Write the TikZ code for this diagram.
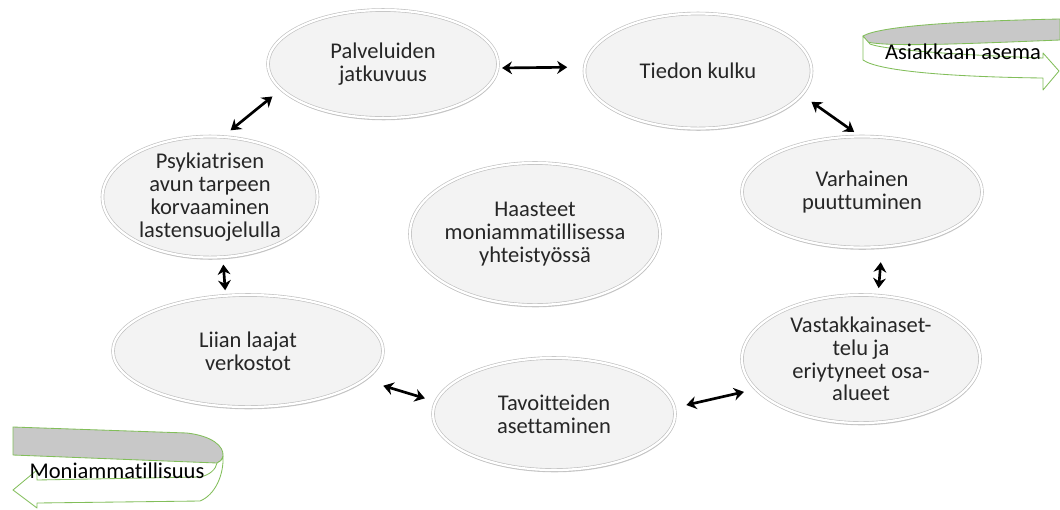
\documentclass[tikz,border=0pt]{standalone}
\usepackage{fontspec}
\setmainfont{Carlito}[Ligatures=NoCommon]
\usetikzlibrary{arrows.meta,shapes.geometric,shadows}

\begin{document}
\begin{tikzpicture}[
      x=0.025cm, y=-0.025cm,
      font=\fontsize{16}{16.2}\selectfont,
      bubble/.style={ellipse, draw=gray!50, line width=0.45pt, double=white, double distance=1.6pt,
        fill=bubblefill, align=center, inner xsep=-8pt, inner ysep=-4pt, text=black!85,
        drop shadow={shadow xshift=0.4pt, shadow yshift=-1.6pt, opacity=0.4}},
      link/.style={{Stealth[length=2.5mm,width=3.2mm]}-{Stealth[length=2.5mm,width=3.2mm]}, line width=1.9pt},
      ribbon/.style={draw=ribgreen, line width=0.6pt, line join=round},
    ]
    \definecolor{bubblefill}{RGB}{243,243,243}
    \definecolor{ribgreen}{RGB}{130,190,90}
    \definecolor{ribgray}{RGB}{200,200,200}

    \path[use as bounding box, fill=white] (0,0) rectangle (1060,509);

    \node[bubble, minimum width=5.75cm,  minimum height=2.7cm]   (palv)   at (383,64)  {Palveluiden\\jatkuvuus};
    \node[bubble, minimum width=5.675cm, minimum height=2.875cm] (tiedon) at (698,71)  {Tiedon kulku};
    \node[bubble, minimum width=6cm,     minimum height=2.775cm] (varh)   at (862,192) {Varhainen\\puuttuminen};
    \node[bubble, minimum width=5.95cm,  minimum height=3.2cm]   (vast)   at (861,359) {Vastakkainaset-\\telu ja\\eriytyneet osa-\\alueet};
    \node[bubble, minimum width=6.05cm,  minimum height=2.8cm]   (tavo)   at (554,414) {Tavoitteiden\\asettaminen};
    \node[bubble, minimum width=6.75cm,  minimum height=2.8cm]   (liian)  at (248,351) {Liian laajat\\verkostot};
    \node[bubble, minimum width=5.375cm, minimum height=3.025cm] (psyk)   at (210,197) {Psykiatrisen\\avun tarpeen\\korvaaminen\\lastensuojelulla};
    \node[bubble, minimum width=6.25cm,  minimum height=3.55cm]  (haast)  at (535,234) {Haasteet\\moniammatillisessa\\yhteistyössä};

    \draw[link, shorten <=0.1cm,  shorten >=0.43cm] (palv.-2)   -- (tiedon.178);
    \draw[link, shorten <=0.3cm,  shorten >=0.18cm] (tiedon.-13) -- (varh.92);
    \draw[link, shorten <=0.38cm, shorten >=0.18cm] (varh.-70)  -- (vast.75);
    \draw[link, shorten <=0.3cm,  shorten >=0.3cm]  (vast.196)  -- (tavo.3);
    \draw[link, shorten <=0.28cm, shorten >=0.5cm]  (tavo.174)  -- (liian.-14);
    \draw[link, shorten <=0.13cm, shorten >=0.18cm] (liian.112) -- (psyk.-78);
    \draw[link, shorten <=0.25cm, shorten >=0.28cm] (psyk.78)   -- (palv.194);

    \draw[ribbon, fill=ribgray] (863,36) .. controls (880,26) and (960,21) .. (1060,19)
      -- (1060,40) .. controls (960,44) and (890,47) .. (867,42) -- cycle;
    \draw[ribbon, fill=white] (863,36) -- (863,60) .. controls (880,72) and (960,77) .. (1043,78)
      -- (1043,90) -- (1059,71) -- (1043,53) -- (1043,58) .. controls (960,55) and (885,50) .. (870,44) -- cycle;
    \node (asema) at (963,52) {Asiakkaan asema};

    \draw[ribbon, fill=ribgray] (13,427) -- (187,433) .. controls (212,436) and (224,446) .. (223,456)
      .. controls (222,460) and (220,462) .. (217,463) -- (13,455) -- cycle;
    \draw[ribbon, fill=white] (223,456) .. controls (224,475) and (215,495) .. (200,501) -- (37,503)
      -- (37,508) -- (13,490) -- (37,470) -- (37,480) -- (200,477) .. controls (210,475) and (216,469) .. (217,463)
      .. controls (220,462) and (222,460) .. (223,456) -- cycle;
    \node (moni) at (117,471) {Moniammatillisuus};
  \end{tikzpicture}
\end{document}
